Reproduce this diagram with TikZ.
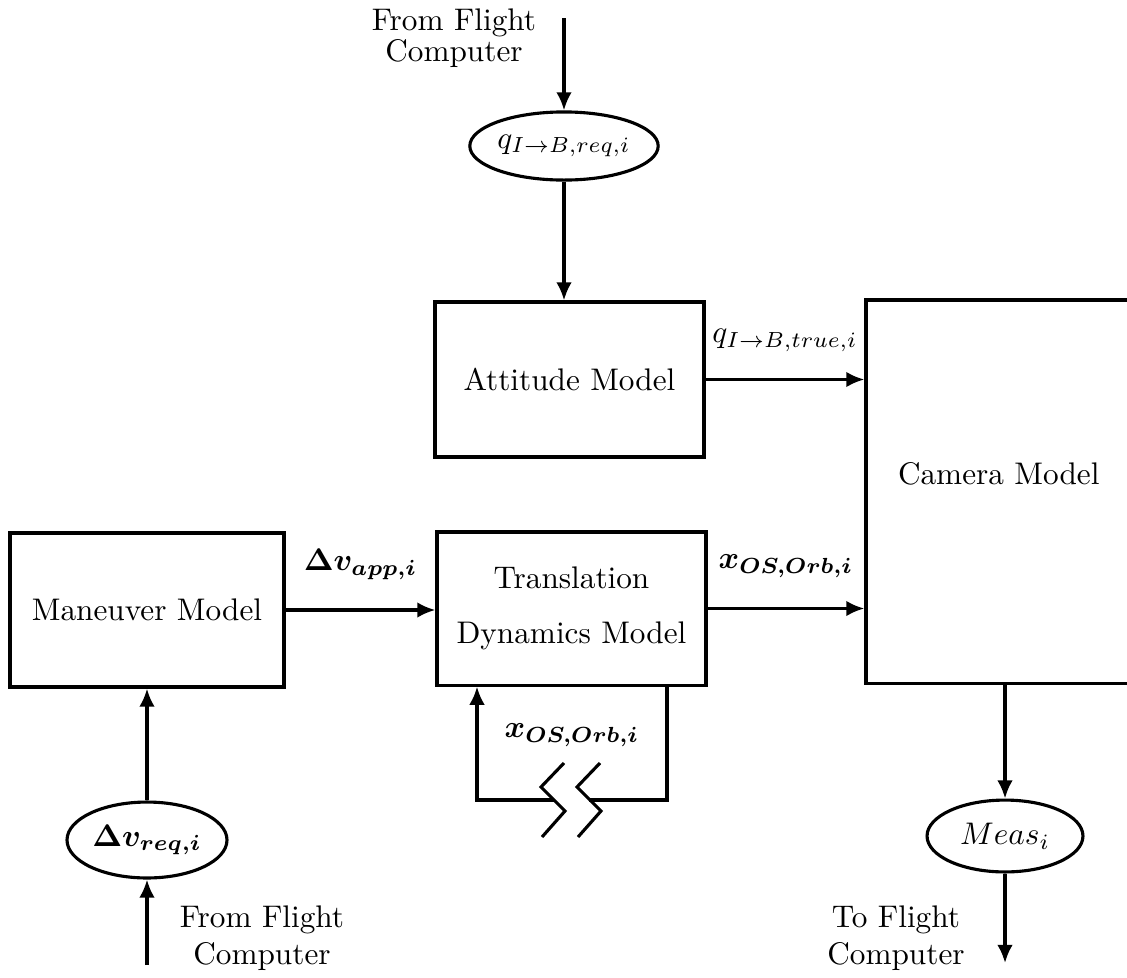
\documentclass[tikz,border=0pt]{standalone}
\usepackage{amsmath,bm}
\usetikzlibrary{arrows.meta,shapes.geometric}
\begin{document}
\begin{tikzpicture}[x=0.32pt,y=-0.32pt,
  line width=1pt,
  arr/.style={-{Latex[length=5.8pt,width=5pt]}},
  blk/.style={draw,rectangle,inner sep=0pt,align=center},
  ell/.style={draw,ellipse,inner sep=0pt},
  txt/.style={inner sep=0pt,align=center}]
\useasboundingbox (0,0) rectangle (1127,977);
\clip (0,0) rectangle (1127,977);
% blocks
\node[blk,minimum width=86.1pt,minimum height=49.6pt] (att) at (569.5,379.5) {\raisebox{-3pt}{Attitude Model}};
\node[blk,minimum width=87.7pt,minimum height=49.3pt] (man) at (147,610) {Maneuver Model};
\node[blk,minimum width=86.1pt,minimum height=49pt] (tr) at (571.5,608.5) {Translation\\[5.5pt]Dynamics Model};
\node[blk,minimum width=89pt,minimum height=122.6pt] (cam) at (1005,491.5) {\hspace*{-4pt}\raisebox{11.5pt}{Camera Model}};
% ellipses
\node[ell,minimum width=50.6pt,minimum height=21.8pt] (qreq) at (564,146) {$q_{I\rightarrow B,req,i}$};
\node[ell,minimum width=51.2pt,minimum height=24.3pt] (dvreq) at (147,840) {$\bm{\Delta v}_{\bm{req,i}}$};
\node[ell,minimum width=49.9pt,minimum height=23pt] (meas) at (1005,836) {$Meas_i$};
% texts
\node[txt] (fc1) at (454,38) {From Flight\\[-2pt]Computer};
\node[txt] (fc2) at (262,938) {From Flight\\Computer};
\node[txt] (tfc) at (896,938) {To Flight\\Computer};
% free ends
\coordinate (topin) at (564,18);
\coordinate (botin) at (147,965);
\coordinate (botout) at (1005,963);
\coordinate (lr) at (667,800);
\coordinate (ll) at (477,800);
\coordinate (br1) at (554,800);
\coordinate (br2) at (589,800);
% connectors
\draw[arr] (topin) -- (qreq.north);
\draw[arr] (qreq.south) -- (qreq.south |- att.north);
\draw[arr] (att.east) -- (att.east -| cam.west) node[midway,above=5pt] (lq) {$q_{I\rightarrow B,true,i}$};
\draw[arr] (man.east) -- (man.east -| tr.west) node[midway,above=6pt] (ldv) {$\bm{\Delta v}_{\bm{app,i}}$};
\draw[arr] (tr.east) -- (tr.east -| cam.west) node[midway,above=6pt] (lx) {$\bm{x}_{\bm{OS,Orb,i}}$};
\draw[arr] (dvreq.north) -- (dvreq.north |- man.south);
\draw[arr] (botin) -- (dvreq.south);
\draw[arr] (cam.south) -- (meas.north);
\draw[arr] (meas.south) -- (botout);
% feedback loop with break
\draw (tr.south -| lr) -- (lr) -- (br2);
\draw[arr] (br1) -- (ll) -- (ll |- tr.south);
\node[txt] (lloop) at (572,735) {$\bm{x}_{\bm{OS,Orb,i}}$};
\draw (564,763) -- (541,787) -- (565,811) -- (542,837);
\draw (600,763) -- (577,787) -- (601,811) -- (578,837);
\end{tikzpicture}
\end{document}
